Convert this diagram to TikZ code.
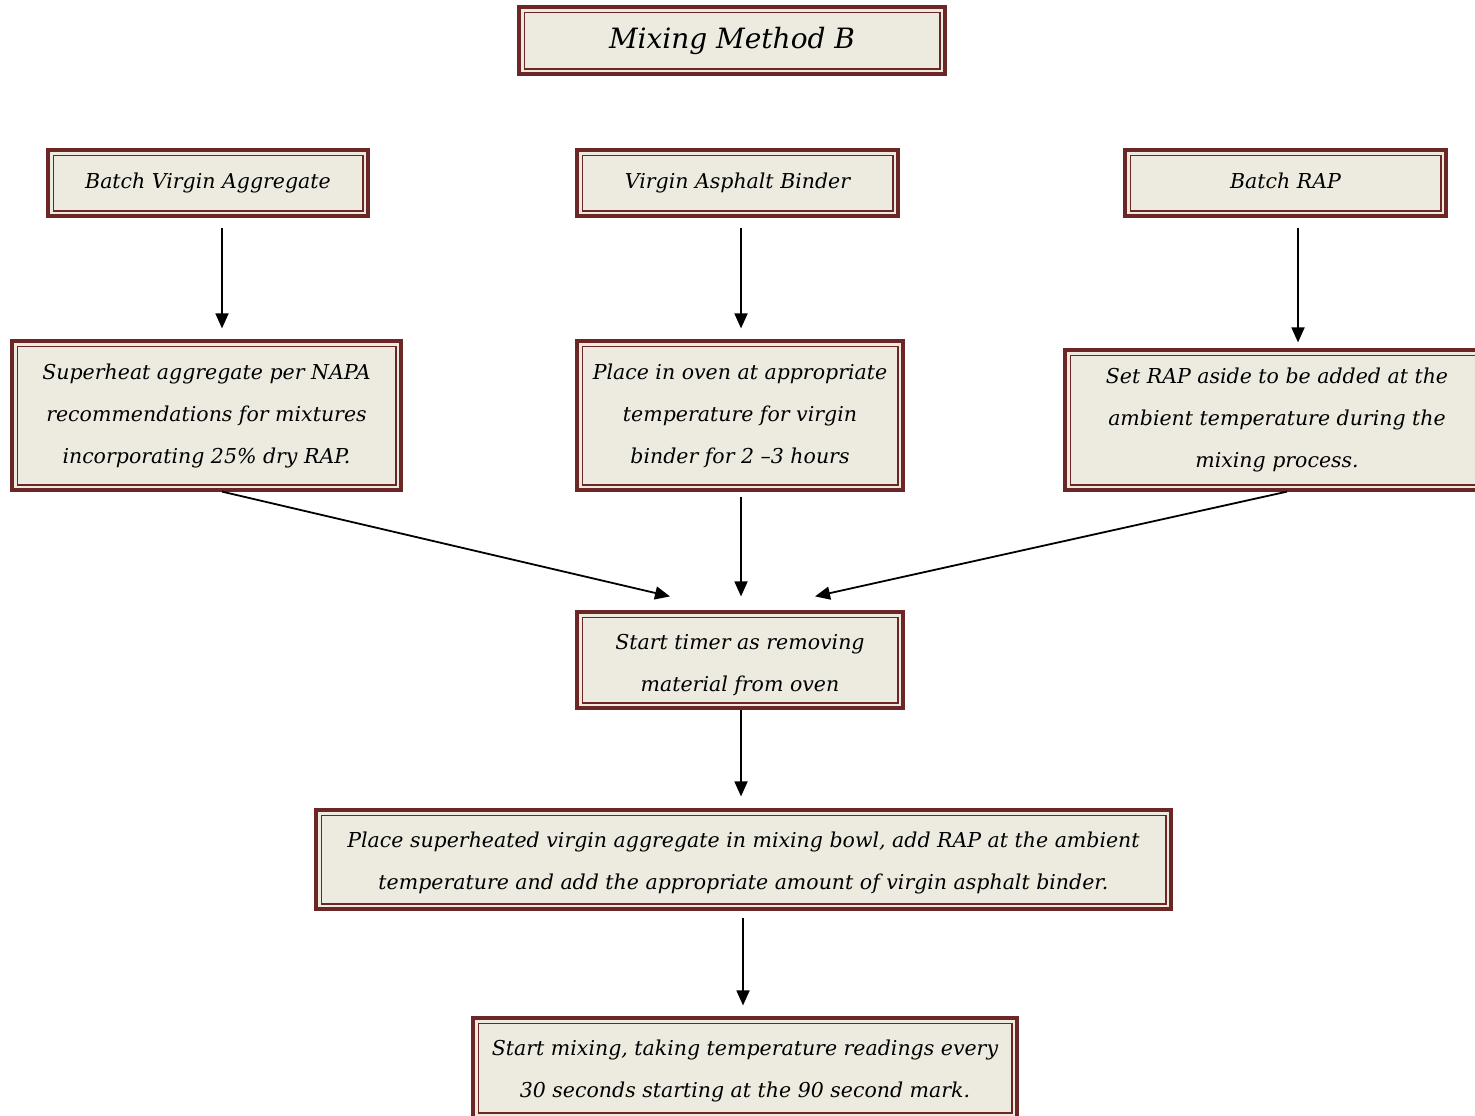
\documentclass[tikz,border=0pt]{standalone}
\usepackage{fontspec}
\setmainfont{DejaVu Serif}
\usetikzlibrary{arrows.meta,positioning,calc}
\definecolor{boxred}{HTML}{6C2626}
\definecolor{boxfill}{HTML}{EDEAE0}
\begin{document}
\begin{tikzpicture}[x=0.5pt,y=-0.5pt,
    stepbox/.style={draw=boxred,line width=1.6pt,fill=boxfill,inner sep=0pt,align=center,
      font=\itshape\fontsize{10.25}{21}\selectfont,
      path picture={\draw[boxred,line width=0.7pt]
        ([shift={(2.6pt,2.6pt)}]path picture bounding box.south west) rectangle
        ([shift={(-2.6pt,-2.6pt)}]path picture bounding box.north east);}},
    flow/.style={-{Triangle[length=7.5pt,width=6.5pt]},line width=0.9pt}]
  \useasboundingbox (0,0) rectangle (1475,1115);
  % title
  \node[stepbox,minimum width=213pt,minimum height=33.5pt,
    font=\itshape\fontsize{14}{18}\selectfont] (title) at (732,40.5) {Mixing Method B};
  % inputs
  \node[stepbox,minimum width=160pt,minimum height=33pt] (agg) at (208,183) {Batch Virgin Aggregate};
  \node[stepbox,minimum width=160.5pt,minimum height=33pt] (binder) at (737.5,183) {Virgin Asphalt Binder};
  \node[stepbox,minimum width=160.5pt,minimum height=33pt] (rap) at (1285.5,183) {Batch RAP\vphantom{g}};
  % preparation
  \node[stepbox,minimum width=194.5pt,minimum height=74.5pt] (heat) at (206.5,415.5)
    {Superheat aggregate per NAPA\\recommendations for mixtures\\incorporating 25\% dry RAP.};
  \node[stepbox,minimum width=163pt,minimum height=74.5pt] (oven) at (740,415.5)
    {Place in oven at appropriate\\temperature for virgin\\binder for 2 –3 hours};
  \node[stepbox,minimum width=212pt,minimum height=70pt] (aside) at (1277,420)
    {Set RAP aside to be added at the\\ambient temperature during the\\mixing process.};
  % mixing
  \node[stepbox,minimum width=163pt,minimum height=48pt] (timer) at (740,660)
    {\rule{0pt}{13pt}Start timer as removing\\material from oven};
  \node[stepbox,minimum width=427.5pt,minimum height=49.5pt] (bowl) at (743.5,859.5)
    {\rule{0pt}{11pt}Place superheated virgin aggregate in mixing bowl, add RAP at the ambient\\temperature and add the appropriate amount of virgin asphalt binder.};
  \node[stepbox,minimum width=272pt,minimum height=50pt] (mix) at (745,1068)
    {\rule{0pt}{11pt}Start mixing, taking temperature readings every\\30 seconds starting at the 90 second mark.};
  % arrows
  \draw[flow,shorten <=5pt,shorten >=5.5pt] ([xshift=7pt]agg.south) -- ([xshift=7pt]agg.south |- heat.north);
  \draw[flow,shorten <=5pt,shorten >=5.5pt] ([xshift=1.75pt]binder.south) -- ([xshift=1.75pt]binder.south |- oven.north);
  \draw[flow,shorten <=5pt,shorten >=3pt] ([xshift=6.25pt]rap.south) -- ([xshift=6.25pt]rap.south |- aside.north);
  \draw[flow] ([xshift=7.75pt]heat.south) -- ([xshift=-35pt,yshift=7pt]timer.north);
  \draw[flow,shorten <=2.5pt,shorten >=7pt] ([xshift=0.5pt]oven.south) -- ([xshift=0.5pt]timer.north);
  \draw[flow] ([xshift=5pt]aside.south) -- ([xshift=37.5pt,yshift=7pt]timer.north);
  \draw[flow,shorten >=6pt] ([xshift=0.5pt]timer.south) -- ([xshift=0.5pt]timer.south |- bowl.north);
  \draw[flow,shorten <=3.5pt,shorten >=5.5pt] ([xshift=-0.25pt]bowl.south) -- ([xshift=-0.25pt]bowl.south |- mix.north);
\end{tikzpicture}
\end{document}
